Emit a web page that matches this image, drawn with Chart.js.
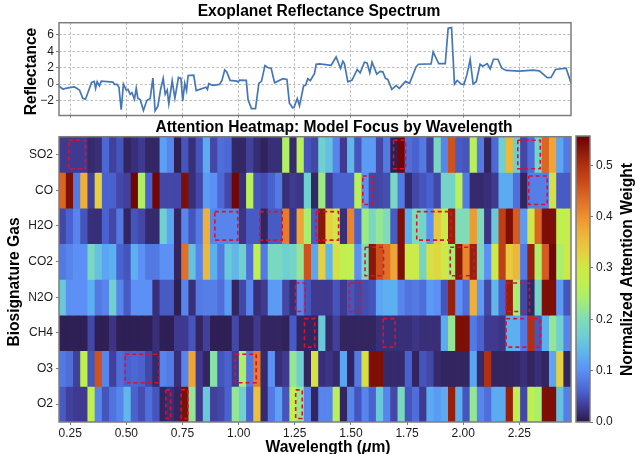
<!DOCTYPE html>
<html><head><meta charset="utf-8">
<style>html,body{margin:0;padding:0;background:#fff;overflow:hidden;width:635px;height:454px}
canvas{position:absolute;display:block;filter:blur(.4px)}</style>
<script src="https://cdn.jsdelivr.net/npm/chart.js@4"></script></head><body>
<div style="position:absolute;left:0;top:0;width:573px;height:118px"><canvas id="spec"></canvas></div>
<div style="position:absolute;left:0;top:118px;width:573px;height:336px"><canvas id="heat"></canvas></div>
<div style="position:absolute;left:575px;top:118px;width:60px;height:336px"><canvas id="bar"></canvas></div>
<script>
const specWavelength=[.199,.217,.240,.269,.291,.306,.318,.333,.345,.357,.363,.370,.380,.388,.440,.447,.458,.467,.477,.487,.499,.507,.517,.525,.536,.544,.551,.562,.576,.591,.606,.618,.628,.640,.652,.664,.673,.682,.689,.704,.716,.732,.743,.751,.760,.768,.775,.800,.811,.855,.861,.867,.885,.915,.926,.938,.947,.962,.992,.998,1.004,1.034,1.042,1.057,1.075,1.090,1.102,1.117,1.130,1.145,1.160,1.197,1.215,1.226,1.241,1.247,1.261,1.271,1.289,1.298,1.308,1.319,1.338,1.345,1.360,1.412,1.434,1.454,1.464,1.471,1.486,1.505,1.528,1.541,1.560,1.572,1.584,1.594,1.615,1.630,1.642,1.654,1.664,1.682,1.701,1.716,1.743,1.761,1.790,1.801,1.857,1.866,1.891,1.920,1.933,1.948,1.961,1.973,1.991,2.003,2.017,2.031,2.044,2.058,2.075,2.087,2.107,2.120,2.135,2.154,2.172,2.191,2.250,2.310,2.339,2.374,2.391,2.411,2.458,2.481];
const specReflectance=[-.24,-.61,-.48,-.36,-.73,-1.74,-1.86,-.73,.20,.32,-.53,.28,-.24,.36,.24,-.04,-.04,-.40,-3.15,0,-.73,-.65,-1.25,-1.05,-1.86,-.53,-1.74,-1.94,-3.23,-2.02,-1.78,.73,-3.27,-2.75,-.73,.69,-1.25,-.73,-2.42,.40,-1.74,.81,.69,-2.07,.08,-.81,1.05,1.09,-.81,-.40,-.65,.04,-.16,-.04,.48,1.74,1.49,.44,.36,.24,.48,.44,-1.94,-3.0,-3.0,.08,.36,2.26,2.02,1.90,.16,.65,.57,-2.34,-2.91,-2.83,-1.78,-2.67,-.24,-.16,.65,.40,1.29,2.42,2.46,2.30,3.31,1.90,2.79,2.50,.28,.48,1.78,1.37,2.67,2.59,1.37,2.67,1.21,1.54,1.49,.69,.57,-.65,-.20,-.53,.32,.08,2.10,2.42,2.46,3.92,2.50,2.50,6.83,6.91,0,.44,0,-.08,1.21,2.99,0,.28,2.42,2.18,2.50,1.86,3.03,3.03,1.94,1.66,1.58,1.70,1.62,.77,.81,1.78,1.94,.08];
const gasLabels=['SO2','CO','H2O','CO2','N2O','CH4','O3','O2'];
const rowSO2=[.03,.03,.03,.03,.015,.02,.065,.035,.05,.01,.02,.03,.012,.012,.115,.09,.005,.05,.02,.05,.125,.04,.07,.065,.012,.012,.035,.018,.008,.02,.02,.25,.015,.26,.05,.04,.17,.15,.09,.03,.14,.05,.11,.11,.04,.08,.005,.55,.07,.06,.08,.035,.19,.09,.46,.055,.05,.26,.08,.01,.065,.17,.36,.17,.04,.07,.18,.44,.38,.12,.08];
const rowCO=[.44,.54,.08,.37,.035,.33,.06,.06,.04,.035,.55,.25,.06,.55,.04,.04,.04,.54,.02,.04,.11,.1,.065,.04,.55,.02,.26,.05,.045,.06,.08,.02,.03,.025,.17,.012,.23,.03,.06,.06,.06,.26,.1,.04,.04,.045,.19,.08,.015,.04,.05,.06,.04,.18,.18,.26,.08,.015,.015,.02,.03,.125,.125,.07,.01,.085,.085,.085,.31,.055,.055];
const rowH2O=[.04,.06,.09,.05,.02,.02,.06,.04,.08,.01,.05,.04,.015,.015,.17,.12,.01,.09,.05,.08,.37,.09,.09,.09,.09,.025,.055,.055,.01,.055,.055,.42,.025,.38,.24,.055,.53,.33,.3,.02,.41,.06,.23,.19,.22,.2,.055,.54,.13,.2,.18,.1,.34,.29,.52,.2,.2,.39,.2,.025,.16,.48,.54,.45,.11,.3,.44,.54,.54,.27,.28];
const rowCO2=[.08,.09,.1,.1,.19,.15,.12,.13,.06,.05,.13,.1,.08,.08,.1,.1,.01,.43,.15,.09,.36,.13,.08,.16,.14,.17,.07,.27,.08,.19,.19,.17,.18,.22,.46,.12,.33,.14,.31,.27,.27,.1,.2,.53,.46,.43,.38,.54,.29,.29,.18,.31,.32,.3,.24,.53,.41,.52,.19,.1,.29,.48,.34,.36,.08,.52,.25,.45,.55,.24,.3];
const rowN2O=[.16,.1,.1,.1,.13,.08,.09,.17,.09,.055,.1,.1,.1,.02,.055,.055,.005,.09,.02,.08,.085,.085,.07,.11,.01,.04,.09,.02,.03,.11,.11,.04,.02,.09,.05,.03,.03,.03,.05,.03,.05,.04,.045,.05,.12,.13,.13,.09,.075,.08,.07,.11,.1,.05,.52,.1,.07,.37,.11,.04,.14,.06,.52,.24,.04,.01,.18,.54,.54,.11,.05];
const rowCH4=[.005,.005,.005,.005,.04,.005,.005,.025,.005,.005,.005,.005,.005,.02,.005,.005,.03,.03,.05,.01,.035,.005,.005,.005,.04,.01,.01,.03,.01,.01,.01,.008,.055,.01,.01,.01,.16,.015,.035,.01,.01,.01,.01,.01,.02,.02,.02,.02,.02,.025,.02,.02,.02,.125,.22,.54,.54,.08,.06,.03,.03,.025,.13,.13,.08,.5,.05,.13,.22,.17,.09];
const rowO3=[.08,.07,.035,.27,.05,.46,.09,.035,.07,.06,.065,.06,.04,.015,.09,.08,.02,.09,.38,.03,.01,.21,.05,.06,.03,.25,.08,.42,.015,.1,.02,.03,.22,.17,.01,.31,.02,.025,.015,.12,.01,.08,.31,.54,.54,.015,.015,.015,.06,.01,.05,.04,.015,.01,.01,.01,.01,.12,.015,.5,.01,.01,.01,.012,.02,.01,.02,.01,.12,.33,.01];
const rowO2=[.055,.035,.03,.03,.27,.09,.05,.075,.09,.14,.06,.045,.07,.05,.01,.02,.01,.54,.22,.03,.16,.035,.04,.06,.22,.17,.06,.35,.015,.08,.115,.05,.27,.22,.09,.01,.09,.09,.26,.01,.09,.05,.09,.06,.16,.09,.04,.19,.05,.07,.03,.125,.11,.125,.52,.13,.05,.22,.09,.07,.125,.125,.52,.27,.04,.27,.24,.54,.54,.15,.085];
const heatRows=[rowSO2,rowCO,rowH2O,rowCO2,rowN2O,rowCH4,rowO3,rowO2];
const boxStart=[.244,1.69,2.243,1.553,2.292,.894,1.094,1.345,1.793,1.563,1.942,1.253,1.494,2.191,1.293,1.644,2.191,.495,.985,.676,.744,1.254];
const boxEnd=[.318,1.743,2.343,1.595,2.374,.996,1.194,1.445,1.946,1.645,2.047,1.296,1.547,2.295,1.339,1.697,2.344,.646,1.078,.697,.774,1.283];
const boxRow=[0,0,0,1,1,2,2,2,2,3,3,4,4,4,5,5,5,6,6,7,7,7];
const xTicks=[.25,.5,.75,1,1.25,1.5,1.75,2,2.25];
const reflTicks=[-2,0,2,4,6];
const barTicks=[0,.1,.2,.3,.4,.5];
const xMin=.2,xMax=2.48,vMax=.557,cellCount=71;
const cmapStops=[0,.03,.06,.1,.13,.17,.2,.24,.27,.3,.33,.37,.4,.43,.47,.5,.53,.557];
const cmapColors=['#2b1a48','#3f3a90','#4a62d0','#5c90f5','#5cb0f0','#70d0d0','#80dcb8','#a8ee70','#c0f050','#cfe846','#e4d040','#efb038','#ee9030','#e07028','#c84818','#b03010','#8a1808','#6a0004'];

const FONT='"Liberation Sans",Arial,sans-serif',INK='#1a1a1a',FRAME='#7d7d7d',LABEL=15.6;
const hex=h=>[1,3,5].map(i=>parseInt(h.substr(i,2),16));
function cmap(v){let i=0;while(i<cmapStops.length-2&&v>cmapStops[i+1])i++;
 const t=Math.max(0,Math.min(1,(v-cmapStops[i])/(cmapStops[i+1]-cmapStops[i])));
 const a=hex(cmapColors[i]),b=hex(cmapColors[i+1]);
 return `rgb(${a.map((c,k)=>Math.round(c+(b[k]-c)*t)).join(',')})`;}
const frame={id:'frame',afterDraw(ch){const a=ch.chartArea,c=ch.ctx;c.save();c.strokeStyle=FRAME;c.lineWidth=1.5;c.strokeRect(a.left,a.top,a.right-a.left,a.bottom-a.top);c.restore();}};
const pin=(w,h)=>s=>{if(w!=null)s.width=w;if(h!=null)s.height=h;s.paddingTop=s.paddingBottom=s.paddingLeft=s.paddingRight=0;};
const setTicks=v=>s=>{s.ticks=v.map(value=>({value}));};
const titleBlock=(text,size,top,bottom)=>({display:true,text,color:'#000',font:{family:FONT,size,weight:'bold'},padding:{top,bottom}});
const shiftTitle=dx=>({id:'shiftTitle',afterLayout(ch){const t=ch.titleBlock;t.left+=dx;t.right+=dx;}});
const vLabel=(text,x,y)=>({id:'vLabel',afterDraw(ch){const c=ch.ctx;c.save();c.fillStyle='#000';c.font=`bold ${LABEL}px ${FONT}`;c.textAlign='center';c.textBaseline='middle';c.translate(x,y);c.rotate(-Math.PI/2);c.fillText(text,0,0);c.restore();}});

// Spectrum
new Chart(document.getElementById('spec'),{type:'line',
 data:{datasets:[{data:specWavelength.map((x,i)=>({x,y:specReflectance[i]})),borderColor:'#4577b8',borderWidth:1.7,pointRadius:0,tension:0}]},
 plugins:[frame,shiftTitle(33.5),vLabel('Reflectance',32,71.5)],
 options:{responsive:true,maintainAspectRatio:false,animation:false,
  layout:{padding:{right:2}},
  plugins:{legend:{display:false},tooltip:{enabled:false},title:titleBlock('Exoplanet Reflectance Spectrum',15.6,2,2)},
  scales:{
   x:{type:'linear',min:xMin,max:xMax,afterBuildTicks:setTicks(xTicks),afterFit:pin(null,2.5),
      grid:{color:'#bcbcbc',tickLength:2,tickColor:FRAME,tickBorderDash:[]},border:{display:false,dash:[2.5,2]},ticks:{display:false}},
   y:{min:-3.85,max:7.5,afterBuildTicks:setTicks(reflTicks),afterFit:pin(59,null),
      grid:{color:'#bcbcbc',tickLength:3,tickColor:FRAME,tickBorderDash:[]},border:{display:false,dash:[2.5,2]},
      ticks:{color:INK,font:{family:FONT,size:12},padding:2,callback:v=>v<0?'\u2212'+(-v):String(v)}}}}});

// Heatmap
const cellW=(xMax-xMin)/cellCount;
const heatSets=heatRows.map((row,r)=>({type:'bar',label:gasLabels[r],
  data:row.map((v,i)=>({x:xMin+cellW*(i+.5),y:[r-.5,r+.5]})),
  backgroundColor:row.map(cmap),borderWidth:0,inflateAmount:.4,barPercentage:1,categoryPercentage:1,grouped:false,order:2}));
const boxSets=boxStart.map((s,i)=>{const e=boxEnd[i],r=boxRow[i],lo=r-.4,hi=r+.4;
  return{type:'line',data:[{x:s,y:lo},{x:e,y:lo},{x:e,y:hi},{x:s,y:hi},{x:s,y:lo}],borderColor:'#dc1030',borderWidth:1.6,borderDash:[4,3],pointRadius:0,tension:0,fill:false,order:1};});
const xLabel={id:'xLabel',afterDraw(ch){const c=ch.ctx;c.save();c.fillStyle='#000';c.textBaseline='alphabetic';
  const parts=[[`bold ${LABEL}px ${FONT}`,'Wavelength ('],[`italic bold ${LABEL}px ${FONT}`,'\u03bc'],[`bold ${LABEL}px ${FONT}`,'m)']];
  let w=0;parts.forEach(p=>{c.font=p[0];w+=c.measureText(p[1]).width;});
  let x=328-w/2;parts.forEach(p=>{c.font=p[0];c.fillText(p[1],x,334);x+=c.measureText(p[1]).width;});c.restore();}};
new Chart(document.getElementById('heat'),{data:{datasets:[...boxSets,...heatSets]},
 plugins:[frame,shiftTitle(48.5),xLabel,vLabel('Biosignature Gas',15,164)],
 options:{responsive:true,maintainAspectRatio:false,animation:false,layout:{padding:{right:2}},
  plugins:{legend:{display:false},tooltip:{enabled:false},title:titleBlock('Attention Heatmap: Model Focus by Wavelength',15.6,0,0)},
  scales:{
   x:{type:'linear',min:xMin,max:xMax,offset:false,afterBuildTicks:setTicks(xTicks),afterFit:pin(null,32),
      grid:{display:true,drawOnChartArea:false,offset:false,tickLength:3,tickColor:FRAME},border:{display:false},
      ticks:{color:INK,font:{family:FONT,size:12},padding:1,maxRotation:0,autoSkip:false,callback:v=>v.toFixed(2)}},
   y:{min:-.5,max:7.5,reverse:true,afterBuildTicks:setTicks(gasLabels.map((_,i)=>i)),afterFit:pin(59,null),
      grid:{display:true,drawOnChartArea:false,tickLength:3,tickColor:FRAME},border:{display:false},
      ticks:{color:INK,font:{family:FONT,size:12},padding:3,callback:v=>gasLabels[v]}}}}});

// Colorbar
const barGrad=ctx=>{const ch=ctx.chart,a=ch.chartArea;if(!a)return'#000';const g=ch.ctx.createLinearGradient(0,a.bottom,0,a.top);
  cmapStops.forEach((v,i)=>g.addColorStop(v/vMax,cmapColors[i]));return g;};
new Chart(document.getElementById('bar'),{type:'bar',
 data:{labels:[''],datasets:[{data:[[0,vMax]],backgroundColor:barGrad,borderWidth:0,barPercentage:1,categoryPercentage:1}]},
 plugins:[frame,vLabel('Normalized Attention Weight',53,151.5)],
 options:{responsive:true,maintainAspectRatio:false,animation:false,
  layout:{padding:{left:1,top:18,bottom:32,right:0}},
  plugins:{legend:{display:false},tooltip:{enabled:false}},
  scales:{
   x:{display:false},
   y:{position:'right',min:0,max:vMax,afterBuildTicks:setTicks(barTicks),afterFit:pin(45,null),
      grid:{display:true,drawOnChartArea:false,tickLength:3,tickColor:FRAME},border:{display:false},
      ticks:{color:INK,font:{family:FONT,size:12},padding:3,callback:v=>v.toFixed(1)}}}}});
</script></body></html>
